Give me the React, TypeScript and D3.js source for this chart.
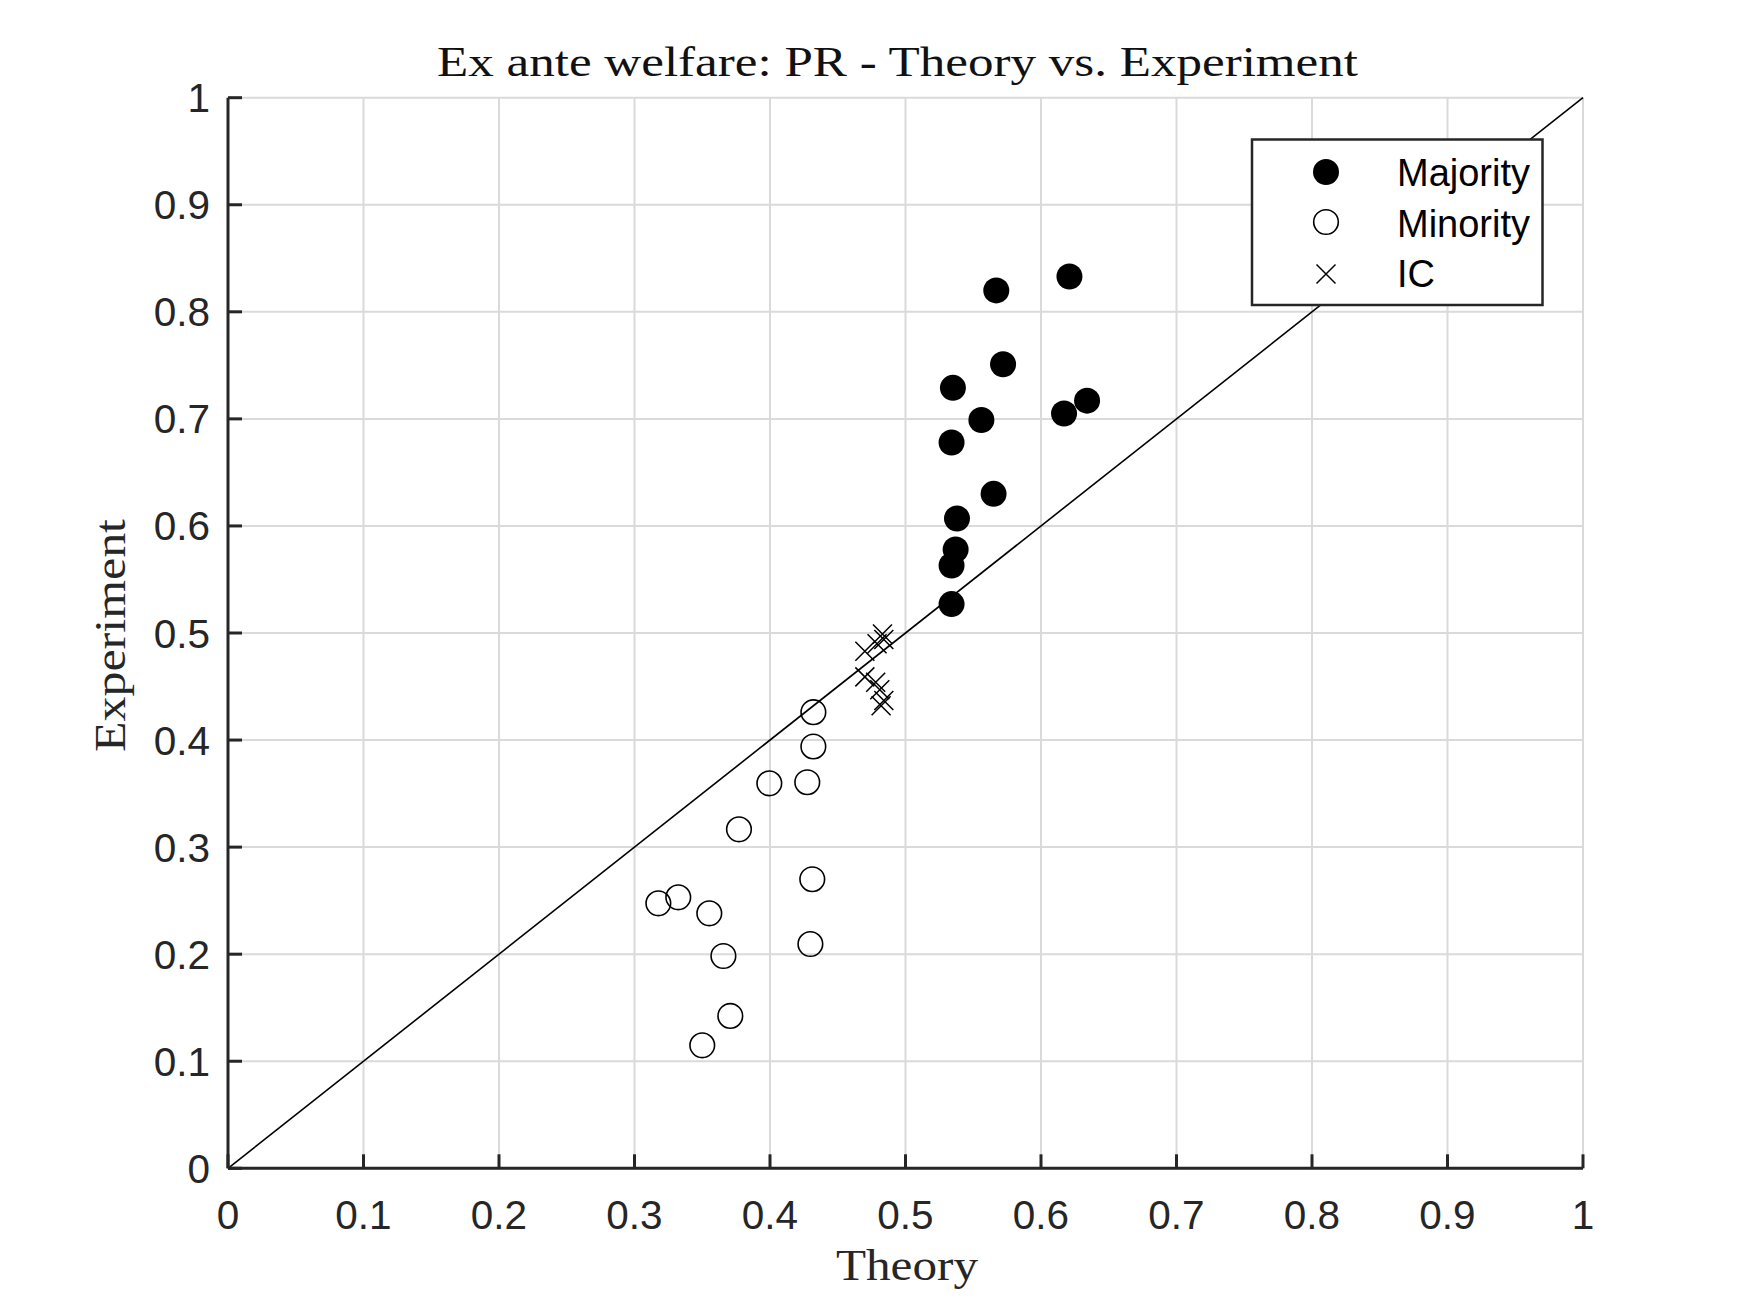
import React from "react";
import * as d3 from "d3";

const majority: [number, number][] = [
  [0.567, 0.82], [0.621, 0.833], [0.572, 0.751], [0.535, 0.729], [0.556, 0.699],
  [0.617, 0.705], [0.634, 0.717], [0.534, 0.678], [0.565, 0.63], [0.538, 0.607],
  [0.537, 0.578], [0.534, 0.563], [0.534, 0.527],
];
const minority: [number, number][] = [
  [0.432, 0.426], [0.432, 0.394], [0.3995, 0.3596], [0.4275, 0.3606], [0.3771, 0.3166],
  [0.4312, 0.27], [0.3176, 0.2475], [0.3323, 0.2531], [0.3552, 0.2382], [0.4298, 0.2095],
  [0.3656, 0.1983], [0.3707, 0.1423], [0.35, 0.1149],
];
const ic: [number, number][] = [
  [0.47, 0.483], [0.483, 0.499], [0.479, 0.49], [0.484, 0.494], [0.47, 0.459],
  [0.478, 0.454], [0.481, 0.447], [0.484, 0.437], [0.482, 0.432],
];
const ticks = [0, 0.1, 0.2, 0.3, 0.4, 0.5, 0.6, 0.7, 0.8, 0.9, 1];
const tickLabels = ["0", "0.1", "0.2", "0.3", "0.4", "0.5", "0.6", "0.7", "0.8", "0.9", "1"];
const legendItems = ["Majority", "Minority", "IC"];
const titleText = "Ex ante welfare: PR - Theory vs. Experiment";
const xLabel = "Theory";
const yLabel = "Experiment";

const W = 1750, H = 1313;
const L = 228, R = 1583, T = 97.7, B = 1168.3;
const AX = "#262626";
const SANS = "'Liberation Sans', Arial, Helvetica, sans-serif";
const SERIF = "'Liberation Serif', 'Times New Roman', serif";

export default function App() {
  const x = d3.scaleLinear().domain([0, 1]).range([L, R]);
  const y = d3.scaleLinear().domain([0, 1]).range([B, T]);
  const line = d3.line<[number, number]>().x((d) => x(d[0])).y((d) => y(d[1]));
  const diag: [number, number][] = [[0, 0], [1, 1]];
  const xs = 9.5;
  const crossPath = (cx: number, cy: number, s: number) =>
    `M${cx - s},${cy - s}L${cx + s},${cy + s}M${cx - s},${cy + s}L${cx + s},${cy - s}`;

  const legRows = [172, 222, 274];
  const legBase = [185.5, 237, 287];

  return (
    <svg width={W} height={H} style={{ position: "absolute", left: 0, top: 0, background: "#fff" }}>
      <rect x={0} y={0} width={W} height={H} fill="#fff" />
      {/* grid */}
      {ticks.map((t, i) => (
        <g key={"g" + i}>
          <line x1={x(t)} x2={x(t)} y1={T} y2={B} stroke="#dadada" strokeWidth={2} />
          <line x1={L} x2={R} y1={y(t)} y2={y(t)} stroke="#dadada" strokeWidth={2} />
        </g>
      ))}
      {/* diagonal */}
      <path d={line(diag) || ""} stroke="#000" strokeWidth={1.6} fill="none" />
      {/* axes */}
      <line x1={L} x2={R} y1={B} y2={B} stroke={AX} strokeWidth={3} />
      <line x1={L} x2={L} y1={T} y2={B} stroke={AX} strokeWidth={3} />
      {ticks.map((t, i) => (
        <g key={"t" + i}>
          <line x1={x(t)} x2={x(t)} y1={B} y2={B - 14} stroke={AX} strokeWidth={3} />
          <line x1={L} x2={L + 14} y1={y(t)} y2={y(t)} stroke={AX} strokeWidth={3} />
          <text x={x(t)} y={1229} textAnchor="middle" fontFamily={SANS} fontSize={40.5} fill={AX}>
            {tickLabels[i]}
          </text>
          <text x={210} y={y(t) + 14.5} textAnchor="end" fontFamily={SANS} fontSize={40.5} fill={AX}>
            {tickLabels[i]}
          </text>
        </g>
      ))}
      {/* data */}
      {minority.map((d, i) => (
        <circle key={"mi" + i} cx={x(d[0])} cy={y(d[1])} r={12.3} fill="none" stroke="#000" strokeWidth={1.6} />
      ))}
      {ic.map((d, i) => (
        <path key={"ic" + i} d={crossPath(x(d[0]), y(d[1]), xs)} stroke="#000" strokeWidth={1.5} fill="none" />
      ))}
      {majority.map((d, i) => (
        <circle key={"ma" + i} cx={x(d[0])} cy={y(d[1])} r={13} fill="#000" />
      ))}
      {/* legend */}
      <rect x={1252} y={139.5} width={290.5} height={165.5} fill="#fff" stroke={AX} strokeWidth={2.5} />
      <circle cx={1326} cy={legRows[0]} r={13} fill="#000" />
      <circle cx={1326} cy={legRows[1]} r={12.3} fill="none" stroke="#000" strokeWidth={1.6} />
      <path d={crossPath(1326, legRows[2], xs)} stroke="#000" strokeWidth={1.5} fill="none" />
      {legendItems.map((s, i) => (
        <text key={"l" + i} x={1397} y={legBase[i]} fontFamily={SANS} fontSize={38} fill="#000">
          {s}
        </text>
      ))}
      {/* title & labels */}
      <text x={437} y={76} textAnchor="start" fontFamily={SERIF} fontSize={43} fill="#111"
        textLength={921} lengthAdjust="spacingAndGlyphs">
        {titleText}
      </text>
      <text x={836} y={1280} textAnchor="start" fontFamily={SERIF} fontSize={44} fill={AX}
        textLength={142} lengthAdjust="spacingAndGlyphs">
        {xLabel}
      </text>
      <text transform={`translate(125,752) rotate(-90)`} textAnchor="start" fontFamily={SERIF} fontSize={44} fill={AX}
        textLength={233} lengthAdjust="spacingAndGlyphs">
        {yLabel}
      </text>
    </svg>
  );
}
